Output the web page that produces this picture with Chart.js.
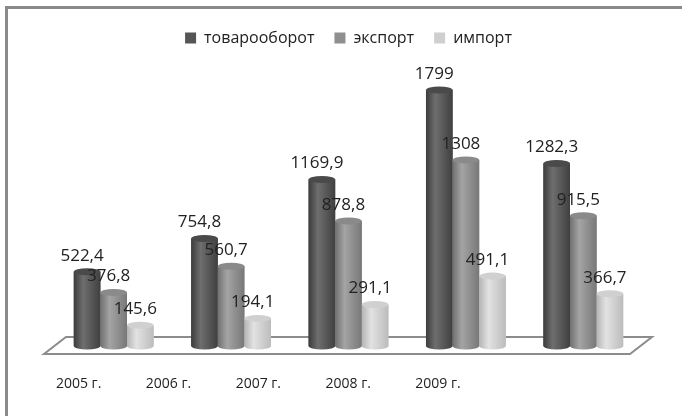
<!DOCTYPE html>
<html>
<head>
<meta charset="utf-8">
<script src="https://cdn.jsdelivr.net/npm/chart.js@4.4.0/dist/chart.umd.min.js"></script>
<style>
html, body { margin: 0; padding: 0; background: #fff; overflow: hidden; }
#wrap { position: relative; width: 682px; height: 416px; overflow: hidden; }
#frame { position: absolute; left: 5px; top: 6px; right: -10px; bottom: -10px;
  border-left: 3px solid #8a8a8a; border-top: 3px solid #8a8a8a; pointer-events: none; }
</style>
</head>
<body>
<div id="wrap">
  <canvas id="grafico" width="682" height="416"></canvas>
  <div id="frame"></div>
</div>
<script>
var years = ['2005 г.', '2006 г.', '2007 г.', '2008 г.', '2009 г.'];
var tovarooborot = [522.4, 754.8, 1169.9, 1799, 1282.3];
var eksport = [376.8, 560.7, 878.8, 1308, 915.5];
var importData = [145.6, 194.1, 291.1, 491.1, 366.7];

// cylinder shading: left edge, highlight, right edge, top cap
var shades = [
  ['#3c3c3c', '#6e6e6e', '#404040', '#4a4a4a'],
  ['#707070', '#a4a4a4', '#787878', '#8a8a8a'],
  ['#b4b4b4', '#e2e2e2', '#bcbcbc', '#d0d0d0']
];

function fmt(v) {
  return String(v).replace('.', ',');
}

var cylinders = {
  id: 'cylinders',
  beforeDatasetsDraw: function (chart) {
    // floor
    var ctx = chart.ctx;
    var a = chart.chartArea;
    var y0 = chart.scales.y.getPixelForValue(0);
    ctx.save();
    ctx.beginPath();
    ctx.moveTo(a.left + 11, y0 - 9);
    ctx.lineTo(a.right + 10, y0 - 9);
    ctx.lineTo(a.right - 12, y0 + 8);
    ctx.lineTo(a.left - 11, y0 + 8);
    ctx.closePath();
    ctx.fillStyle = '#fff';
    ctx.fill();
    ctx.lineWidth = 2;
    ctx.strokeStyle = '#8c8c8c';
    ctx.stroke();
    ctx.restore();
  },
  afterDatasetsDraw: function (chart) {
    var ctx = chart.ctx;
    ctx.save();
    chart.data.datasets.forEach(function (ds, i) {
      var meta = chart.getDatasetMeta(i);
      var s = shades[i];
      meta.data.forEach(function (bar) {
        var rx = bar.width / 2, ry = 3.5;
        var x0 = bar.x - rx, x1 = bar.x + rx;
        var g = ctx.createLinearGradient(x0, 0, x1, 0);
        g.addColorStop(0, s[0]);
        g.addColorStop(0.35, s[1]);
        g.addColorStop(1, s[2]);
        ctx.fillStyle = g;
        ctx.beginPath();
        ctx.moveTo(x0, bar.y);
        ctx.lineTo(x0, bar.base);
        ctx.ellipse(bar.x, bar.base, rx, ry, 0, Math.PI, 0, true);
        ctx.lineTo(x1, bar.y);
        ctx.closePath();
        ctx.fill();
        ctx.beginPath();
        ctx.ellipse(bar.x, bar.y, rx, ry, 0, 0, Math.PI * 2);
        ctx.fillStyle = s[3];
        ctx.fill();
      });
    });
    // value labels
    ctx.font = '17px "Open Sans"';
    ctx.fillStyle = '#222';
    ctx.textAlign = 'center';
    ctx.textBaseline = 'middle';
    chart.data.datasets.forEach(function (ds, i) {
      chart.getDatasetMeta(i).data.forEach(function (bar, j) {
        ctx.fillText(fmt(ds.data[j]), bar.x - 5, bar.y - 16);
      });
    });
    ctx.restore();
  }
};

new Chart(document.getElementById('grafico'), {
  type: 'bar',
  data: {
    labels: years,
    datasets: [
      { label: 'товарооборот', data: tovarooborot, backgroundColor: '#555555', borderWidth: 0 },
      { label: 'экспорт', data: eksport, backgroundColor: '#8f8f8f', borderWidth: 0 },
      { label: 'импорт', data: importData, backgroundColor: '#cfcfcf', borderWidth: 0 }
    ]
  },
  options: {
    responsive: false,
    animation: false,
    devicePixelRatio: 1,
    layout: { padding: { left: 55, right: 40, top: 10, bottom: -6 } },
    datasets: { bar: { barPercentage: 1.0, categoryPercentage: 0.68 } },
    plugins: {
      tooltip: { enabled: false },
      legend: {
        position: 'top',
        labels: {
          boxWidth: 11,
          boxHeight: 11,
          padding: 20,
          color: '#222',
          font: { family: '"Open Sans"', size: 16 }
        }
      }
    },
    scales: {
      x: { display: false },
      y: { display: false, min: 0, max: 2038 },
      // year labels sit on the front edge of the floor, so they get their own axis
      x2: {
        type: 'linear',
        axis: 'x',
        position: 'bottom',
        bounds: 'data',
        offset: false,
        min: -0.263,
        max: 6.27,
        grid: { display: false, drawTicks: false, offset: false },
        border: { display: false },
        afterBuildTicks: function (scale) {
          scale.ticks = years.map(function (y, i) { return { value: i }; });
        },
        ticks: {
          padding: 29.6,
          autoSkip: false,
          maxRotation: 0,
          color: '#222',
          font: { family: '"Open Sans"', size: 14 },
          callback: function (v) { return years[v]; }
        }
      }
    }
  },
  plugins: [cylinders]
});
</script>
</body>
</html>
